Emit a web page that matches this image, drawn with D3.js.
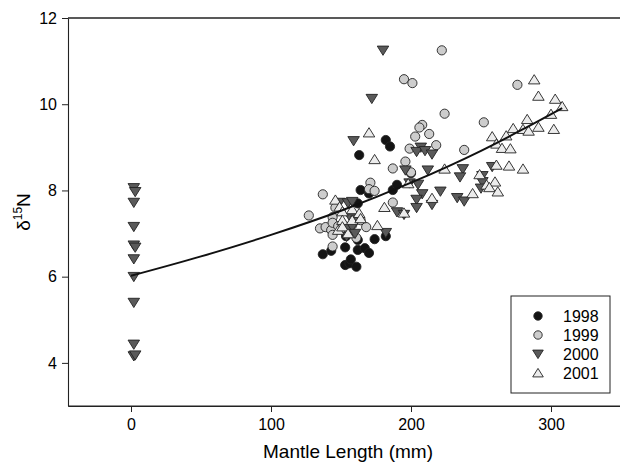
<!DOCTYPE html>
<html>
<head>
<meta charset="utf-8">
<script src="https://cdn.jsdelivr.net/npm/d3@7"></script>
<style>
  html, body { margin: 0; padding: 0; background: #fff; }
  svg { display: block; }
  text { font-family: Arial, "Liberation Sans", Helvetica, sans-serif; fill: #000; }
</style>
</head>
<body>
<svg id="chart" width="620" height="463"></svg>
<script>
// ---------- data ----------
const years = ["1998", "1999", "2000", "2001"];

const ml1998 = [137, 143, 153, 153, 153.6, 156, 157, 161, 162, 162, 167, 170, 174, 182, 162, 164, 170, 163, 182, 185, 187, 190, 200];
const n1998  = [6.52, 6.60, 6.68, 6.27, 6.94, 6.31, 6.40, 6.23, 6.62, 6.85, 6.66, 6.55, 6.87, 6.94, 7.70, 8.01, 7.93, 8.82, 9.17, 9.02, 8.01, 8.13, 8.40];

const ml1999 = [222, 195, 201, 276, 224, 252, 208, 206, 213, 203, 218, 199, 238, 196, 187, 200, 171, 170, 174, 137, 187, 127, 135, 139, 143, 144, 144, 144, 148, 155, 158, 164, 168, 161, 144, 146];
const n1999  = [11.25, 10.58, 10.49, 10.45, 9.78, 9.58, 9.52, 9.46, 9.31, 9.25, 9.05, 8.97, 8.94, 8.67, 8.51, 8.42, 8.18, 8.03, 7.99, 7.91, 7.72, 7.42, 7.12, 7.15, 7.08, 6.97, 7.38, 7.25, 7.17, 7.12, 7.20, 7.31, 7.15, 6.90, 6.70, 7.60];

const ml2000 = [2, 3, 2, 2, 2, 3, 2, 2, 2, 2, 2, 3,
                180, 172, 159, 207, 204, 210, 215, 196, 212, 237, 235, 258, 251, 251, 250, 199, 205, 208, 221, 204, 233, 238, 215, 204, 190, 195, 182, 149, 155, 158, 157, 161, 155, 158, 154, 160];
const n2000  = [8.06, 7.97, 7.72, 7.16, 6.73, 6.68, 6.41, 6.00, 5.40, 4.43, 4.16, 4.18,
                11.25, 10.13, 9.15, 9.00, 8.90, 8.92, 8.84, 8.47, 8.47, 8.50, 8.31, 8.55, 8.34, 8.20, 8.05, 8.17, 8.14, 7.92, 7.98, 7.79, 7.83, 7.75, 7.67, 7.60, 7.50, 7.44, 7.02, 7.72, 7.71, 7.74, 7.36, 7.31, 7.12, 7.16, 6.93, 7.00];

const ml2001 = [288, 291, 303, 308, 300, 283, 273, 280, 284, 291, 302, 258, 268, 261, 265, 271, 261, 270, 280, 249, 260, 254, 256, 262, 244, 224, 198, 195, 215, 181, 176, 170, 174, 146, 149, 151, 158, 163, 151, 158, 164, 148, 151, 155];
const n2001  = [10.57, 10.19, 10.12, 9.95, 9.77, 9.65, 9.44, 9.42, 9.38, 9.47, 9.42, 9.25, 9.27, 9.08, 8.98, 8.97, 8.59, 8.57, 8.50, 8.37, 8.20, 8.13, 8.07, 7.97, 7.93, 8.50, 8.16, 7.48, 7.82, 7.61, 7.19, 9.34, 8.72, 7.78, 7.62, 7.51, 7.56, 7.47, 7.31, 7.31, 7.35, 7.08, 7.16, 7.00];

// fitted curve
const fitML  = [0, 50, 100, 150, 200, 250, 280, 308];
const fitN   = [6.02, 6.47, 6.97, 7.53, 8.18, 8.92, 9.42, 9.91];

const xTicks = [0, 100, 200, 300];
const yTicks = [4, 6, 8, 10, 12];

// ---------- setup ----------
const svg = d3.select("#chart");
const pLeft = 68, pRight = 621, pTop = 18, pBottom = 406;

const x = d3.scaleLinear().domain([-45, 350]).range([pLeft, pRight]);
const y = d3.scaleLinear().domain([3, 12]).range([pBottom, pTop]);

// frame: top and bottom lines (right edge runs off the picture)
const frame = svg.append("g").attr("stroke", "#222").attr("fill", "none");
frame.append("line").attr("x1", pLeft).attr("x2", 625).attr("y1", pTop).attr("y2", pTop).attr("stroke-width", 1.3);
frame.append("line").attr("x1", pLeft).attr("x2", 625).attr("y1", pBottom).attr("y2", pBottom).attr("stroke-width", 1.1);

// axes
const yAxis = svg.append("g")
  .attr("transform", `translate(${pLeft},0)`)
  .call(d3.axisLeft(y).tickValues(yTicks).tickSize(6).tickSizeOuter(0).tickPadding(5).tickFormat(d3.format("d")));
const xAxis = svg.append("g")
  .attr("transform", `translate(0,${pBottom})`)
  .call(d3.axisBottom(x).tickValues(xTicks).tickSize(6).tickSizeOuter(0).tickPadding(7).tickFormat(d3.format("d")));
[xAxis, yAxis].forEach(g => {
  g.select(".domain").attr("stroke", "#222").attr("stroke-width", 1.1);
  g.selectAll(".tick line").attr("stroke", "#222");
  g.selectAll(".tick text").attr("font-size", 16).attr("font-family", "Arial, 'Liberation Sans', sans-serif").attr("fill", "#111");
});

// axis titles
svg.append("text")
  .attr("x", x(155)).attr("y", 458)
  .attr("text-anchor", "middle")
  .attr("font-size", 19)
  .text("Mantle Length (mm)");

const yt = svg.append("text")
  .attr("transform", `translate(30,${y(7.5)}) rotate(-90)`)
  .attr("text-anchor", "middle")
  .attr("font-size", 19);
yt.append("tspan").text("δ");
yt.append("tspan").attr("font-size", 12).attr("dy", -8).text("15");
yt.append("tspan").attr("dy", 8).text("N");

// ---------- symbols ----------
const triUp = (h) => `M0,${-h}L${h * 1.15},${h * 0.85}L${-h * 1.15},${h * 0.85}Z`;
const triDown = (h) => `M0,${h}L${h * 1.15},${-h * 0.85}L${-h * 1.15},${-h * 0.85}Z`;

const styles = {
  "1998": { fill: "#141414", shape: "circle" },
  "1999": { fill: "#cdcdcd", shape: "circle" },
  "2000": { fill: "#5a5a5a", shape: "down" },
  "2001": { fill: "#ececec", shape: "up" }
};

function drawMarker(g, shape, fill, size) {
  if (shape === "circle") {
    g.append("circle").attr("r", size).attr("fill", fill).attr("stroke", "#222").attr("stroke-width", 0.9);
  } else {
    g.append("path").attr("d", shape === "up" ? triUp(size + 0.4) : triDown(size + 0.4))
      .attr("fill", fill).attr("stroke", "#222").attr("stroke-width", 0.9).attr("stroke-linejoin", "miter");
  }
}

const seriesData = {
  "1998": ml1998.map((v, i) => ({ ml: v, n: n1998[i] })),
  "1999": ml1999.map((v, i) => ({ ml: v, n: n1999[i] })),
  "2000": ml2000.map((v, i) => ({ ml: v, n: n2000[i] })),
  "2001": ml2001.map((v, i) => ({ ml: v, n: n2001[i] }))
};

const pts = svg.append("g");
years.forEach(yr => {
  const st = styles[yr];
  seriesData[yr].forEach(d => {
    const g = pts.append("g").attr("transform", `translate(${x(d.ml)},${y(d.n)})`);
    drawMarker(g, st.shape, st.fill, 4.6);
  });
});

// fitted curve
const fit = fitML.map((v, i) => ({ ml: v, n: fitN[i] }));
svg.append("path")
  .datum(fit)
  .attr("fill", "none")
  .attr("stroke", "#111")
  .attr("stroke-width", 2)
  .attr("d", d3.line().x(d => x(d.ml)).y(d => y(d.n)).curve(d3.curveMonotoneX));

// ---------- legend ----------
const lg = svg.append("g");
lg.append("rect").attr("x", 511).attr("y", 296).attr("width", 99).attr("height", 97)
  .attr("fill", "#fff").attr("stroke", "#222").attr("stroke-width", 1);
years.forEach((yr, i) => {
  const cy = 316 + i * 19;
  const g = lg.append("g").attr("transform", `translate(538,${cy})`);
  drawMarker(g, styles[yr].shape, styles[yr].fill, 4.2);
  lg.append("text").attr("x", 563).attr("y", cy).attr("dy", "0.36em")
    .attr("font-size", 16).text(yr);
});
</script>
</body>
</html>
